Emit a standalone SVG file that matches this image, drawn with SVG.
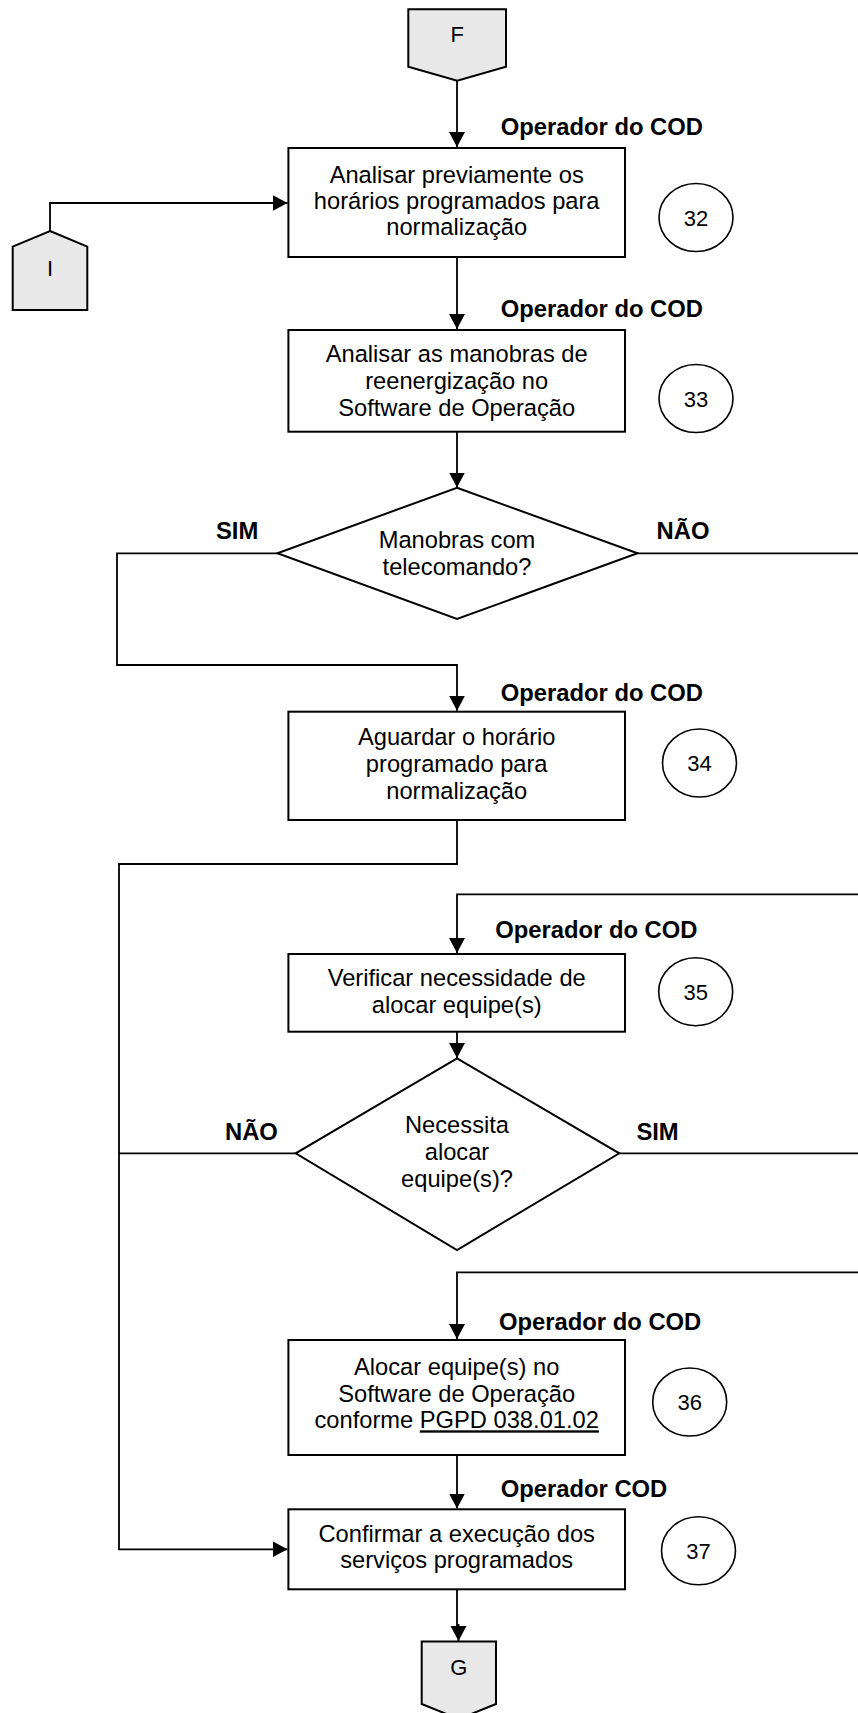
<svg xmlns="http://www.w3.org/2000/svg" width="858" height="1713" viewBox="0 0 858 1713">
<style>
.box{fill:#fff;stroke:#000;stroke-width:2}
.off{fill:#e8e8e8;stroke:#000;stroke-width:2}
.num{fill:#fff;stroke:#000;stroke-width:1.6}
.c{fill:none;stroke:#000;stroke-width:1.8}
.t{font-family:"Liberation Sans",Arial,sans-serif;font-size:23.7px;text-anchor:middle;fill:#000}
.b{font-family:"Liberation Sans",Arial,sans-serif;font-size:23.8px;font-weight:bold;fill:#000}
.n{font-family:"Liberation Sans",Arial,sans-serif;font-size:22px;text-anchor:middle;fill:#000}
</style>
<defs>
<marker id="ah" markerUnits="userSpaceOnUse" markerWidth="16" markerHeight="17" refX="15" refY="8" orient="auto">
<path d="M0,0 L15,8 L0,16 z" fill="#000"/>
</marker>
</defs>
<rect width="858" height="1713" fill="#fff"/>

<g id="connectors">
<path class="c" d="M457,80.7 V147" marker-end="url(#ah)"/>
<path class="c" d="M50,231 V203 H287.5" marker-end="url(#ah)"/>
<path class="c" d="M457,257 V329" marker-end="url(#ah)"/>
<path class="c" d="M457,432 V487.5" marker-end="url(#ah)"/>
<path class="c" d="M277.4,553.3 H117 V665 H457 V710.7" marker-end="url(#ah)"/>
<path class="c" d="M637.5,553.3 H858"/>
<path class="c" d="M457,820 V864 H119 V1549.3 H287.5" marker-end="url(#ah)"/>
<path class="c" d="M858,894.3 H457 V953" marker-end="url(#ah)"/>
<path class="c" d="M457,1031.7 V1058" marker-end="url(#ah)"/>
<path class="c" d="M295.7,1153.3 H119"/>
<path class="c" d="M619.3,1153.3 H858"/>
<path class="c" d="M858,1272.3 H457 V1339" marker-end="url(#ah)"/>
<path class="c" d="M457,1455 V1508.5" marker-end="url(#ah)"/>
<path class="c" d="M457,1589.3 V1625 H458.5 V1641" marker-end="url(#ah)"/>
</g>

<g id="F">
<polygon class="off" points="408.3,9.3 506,9.3 506,66.7 457.2,80.7 408.3,66.7"/>
<text class="n" x="457.2" y="42">F</text>
</g>

<g id="I">
<polygon class="off" points="50,231 87.3,246.7 87.3,310 12.7,310 12.7,246.7"/>
<text class="n" x="50" y="276">I</text>
</g>

<g id="n32">
<text class="b" x="500.7" y="135">Operador do COD</text>
<rect class="box" x="288.4" y="148" width="336.6" height="109"/>
<text class="t" x="456.7" y="182.7">Analisar previamente os</text>
<text class="t" x="456.7" y="209">horários programados para</text>
<text class="t" x="456.7" y="234.7">normalização</text>
<ellipse class="num" cx="696" cy="217.5" rx="37" ry="34"/>
<text class="n" x="696" y="225.5">32</text>
</g>

<g id="n33">
<text class="b" x="500.7" y="316.7">Operador do COD</text>
<rect class="box" x="288.4" y="330" width="336.6" height="101.7"/>
<text class="t" x="456.7" y="361.7">Analisar as manobras de</text>
<text class="t" x="456.7" y="388.5">reenergização no</text>
<text class="t" x="456.7" y="415.7">Software de Operação</text>
<ellipse class="num" cx="696" cy="398.5" rx="37" ry="34"/>
<text class="n" x="696" y="406.5">33</text>
</g>

<g id="d1">
<polygon class="box" points="457,487.7 637.5,553.3 457,619 277.4,553.3"/>
<text class="t" x="457" y="548.3">Manobras com</text>
<text class="t" x="457" y="575">telecomando?</text>
<text class="b" x="216" y="539.3">SIM</text>
<text class="b" x="656.6" y="539.3">NÃO</text>
</g>

<g id="n34">
<text class="b" x="500.7" y="700.7">Operador do COD</text>
<rect class="box" x="288.4" y="711.7" width="336.6" height="108.3"/>
<text class="t" x="456.7" y="745">Aguardar o horário</text>
<text class="t" x="456.7" y="772">programado para</text>
<text class="t" x="456.7" y="799">normalização</text>
<ellipse class="num" cx="699.5" cy="763" rx="37" ry="34"/>
<text class="n" x="699.5" y="771">34</text>
</g>

<g id="n35">
<text class="b" x="495.2" y="938.3">Operador do COD</text>
<rect class="box" x="288.4" y="954" width="336.6" height="77.7"/>
<text class="t" x="456.7" y="986">Verificar necessidade de</text>
<text class="t" x="456.7" y="1013.3">alocar equipe(s)</text>
<ellipse class="num" cx="695.7" cy="991.7" rx="37" ry="34"/>
<text class="n" x="695.7" y="999.7">35</text>
</g>

<g id="d2">
<polygon class="box" points="457,1058.3 619.3,1153.3 457,1250 295.7,1153.3"/>
<text class="t" x="457" y="1133.3">Necessita</text>
<text class="t" x="457" y="1160">alocar</text>
<text class="t" x="457" y="1186.7">equipe(s)?</text>
<text class="b" x="225" y="1140">NÃO</text>
<text class="b" x="636.4" y="1140">SIM</text>
</g>

<g id="n36">
<text class="b" x="499" y="1330">Operador do COD</text>
<rect class="box" x="288.4" y="1340" width="336.6" height="115"/>
<text class="t" x="456.7" y="1375">Alocar equipe(s) no</text>
<text class="t" x="456.7" y="1402.3">Software de Operação</text>
<text class="t" x="456.7" y="1428.3">conforme <tspan style="text-decoration:underline">PGPD 038.01.02</tspan></text>
<ellipse class="num" cx="689.7" cy="1402" rx="37" ry="34"/>
<text class="n" x="689.7" y="1410">36</text>
</g>

<g id="n37">
<text class="b" x="500.7" y="1496.7">Operador COD</text>
<rect class="box" x="288.4" y="1509.3" width="336.6" height="80"/>
<text class="t" x="456.7" y="1541.7">Confirmar a execução dos</text>
<text class="t" x="456.7" y="1568.3">serviços programados</text>
<ellipse class="num" cx="698.5" cy="1550.8" rx="37" ry="34"/>
<text class="n" x="698.5" y="1558.8">37</text>
</g>

<g id="G">
<polygon class="off" points="421.7,1641.5 496,1641.5 496,1704 458.8,1719 421.7,1704"/>
<text class="n" x="458.8" y="1675">G</text>
</g>
</svg>
